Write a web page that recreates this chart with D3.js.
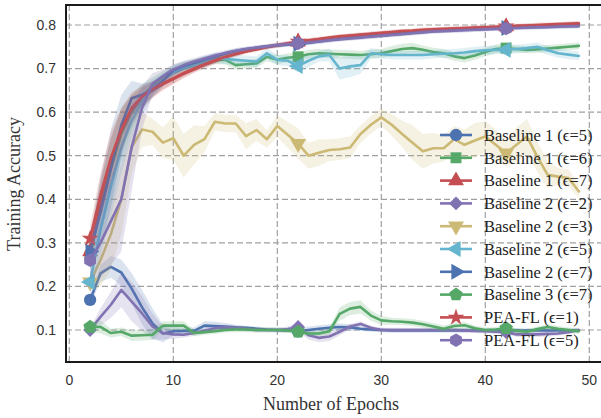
<!DOCTYPE html>
<html>
<head>
<meta charset="utf-8">
<script src="https://cdn.jsdelivr.net/npm/d3@7"></script>
<style>
  html, body { margin: 0; padding: 0; background: #fff; }
  svg { display: block; }
</style>
</head>
<body>
<svg id="chart" width="601" height="418"></svg>
<script>
// ---------------- DATA ----------------
const epochs = [2,3,4,5,6,7,8,9,10,11,12,13,14,15,16,17,18,19,20,21,22,23,24,25,26,27,28,29,30,31,32,33,34,35,36,37,38,39,40,41,42,43,44,45,46,47,48,49];

const seriesNames = ["Baseline 1 (\u03f5=5)","Baseline 1 (\u03f5=6)","Baseline 1 (\u03f5=7)","Baseline 2 (\u03f5=2)","Baseline 2 (\u03f5=3)","Baseline 2 (\u03f5=5)","Baseline 2 (\u03f5=7)","Baseline 3 (\u03f5=7)","PEA-FL (\u03f5=1)","PEA-FL (\u03f5=5)"];

const b1e5 = [0.169,0.23,0.245,0.232,0.195,0.152,0.115,0.092,0.097,0.098,0.098,0.11,0.109,0.108,0.106,0.105,0.103,0.101,0.1,0.099,0.097,0.1,0.103,0.105,0.107,0.106,0.103,0.101,0.1,0.099,0.099,0.099,0.099,0.099,0.099,0.099,0.099,0.099,0.099,0.099,0.099,0.099,0.099,0.099,0.099,0.099,0.099,0.099];
const b1e5Std = [0.01,0.02,0.025,0.03,0.035,0.04,0.035,0.02,0.01,0.008,0.008,0.01,0.01,0.008,0.006,0.005,0.005,0.005,0.005,0.005,0.008,0.008,0.008,0.008,0.008,0.008,0.005,0.005,0.005,0.005,0.005,0.005,0.005,0.005,0.005,0.005,0.005,0.005,0.005,0.005,0.005,0.005,0.005,0.005,0.005,0.005,0.005,0.005];

const b1e6 = [0.27,0.38,0.47,0.55,0.6,0.635,0.66,0.68,0.695,0.705,0.712,0.718,0.72,0.72,0.708,0.71,0.712,0.727,0.72,0.725,0.727,0.733,0.735,0.734,0.733,0.732,0.731,0.733,0.735,0.74,0.745,0.747,0.743,0.738,0.735,0.728,0.724,0.73,0.738,0.745,0.747,0.745,0.743,0.744,0.746,0.748,0.75,0.752];
const b1e6Std = [0.03,0.06,0.07,0.06,0.04,0.03,0.02,0.015,0.012,0.01,0.01,0.01,0.01,0.01,0.01,0.01,0.01,0.01,0.01,0.01,0.01,0.01,0.01,0.01,0.01,0.01,0.01,0.01,0.01,0.012,0.012,0.012,0.01,0.01,0.01,0.01,0.01,0.01,0.01,0.01,0.01,0.008,0.008,0.008,0.008,0.008,0.008,0.008];

const b1e7 = [0.28,0.39,0.48,0.555,0.605,0.632,0.65,0.664,0.676,0.688,0.698,0.708,0.717,0.726,0.733,0.739,0.744,0.749,0.753,0.757,0.761,0.764,0.767,0.77,0.773,0.775,0.777,0.779,0.781,0.783,0.785,0.786,0.788,0.789,0.79,0.791,0.792,0.793,0.794,0.795,0.796,0.797,0.798,0.799,0.8,0.801,0.802,0.803];
const b1e7Std = [0.03,0.05,0.06,0.05,0.035,0.025,0.018,0.014,0.012,0.01,0.008,0.008,0.007,0.006,0.006,0.005,0.005,0.005,0.005,0.005,0.005,0.005,0.005,0.005,0.005,0.005,0.005,0.005,0.005,0.005,0.005,0.005,0.005,0.005,0.005,0.005,0.005,0.005,0.005,0.005,0.005,0.005,0.005,0.005,0.005,0.005,0.005,0.005];

const b2e2 = [0.1,0.13,0.158,0.192,0.165,0.138,0.108,0.093,0.09,0.089,0.093,0.098,0.104,0.106,0.105,0.102,0.1,0.1,0.1,0.102,0.107,0.088,0.082,0.085,0.096,0.108,0.114,0.105,0.1,0.1,0.1,0.1,0.1,0.1,0.1,0.1,0.099,0.098,0.097,0.096,0.095,0.09,0.09,0.09,0.091,0.092,0.095,0.1];
const b2e2Std = [0.005,0.02,0.03,0.04,0.045,0.04,0.03,0.015,0.01,0.006,0.006,0.006,0.006,0.005,0.005,0.005,0.005,0.005,0.005,0.006,0.01,0.01,0.01,0.01,0.008,0.006,0.006,0.005,0.005,0.005,0.005,0.005,0.005,0.005,0.005,0.005,0.005,0.005,0.005,0.005,0.005,0.006,0.006,0.006,0.006,0.005,0.005,0.005];

const b2e3 = [0.21,0.26,0.32,0.4,0.52,0.56,0.555,0.53,0.54,0.5,0.525,0.538,0.578,0.574,0.574,0.545,0.559,0.538,0.568,0.548,0.528,0.5,0.507,0.513,0.515,0.519,0.55,0.571,0.588,0.571,0.55,0.53,0.51,0.517,0.517,0.538,0.525,0.535,0.544,0.525,0.506,0.525,0.544,0.498,0.456,0.452,0.449,0.418];
const b2e3Std = [0.02,0.06,0.08,0.08,0.06,0.04,0.03,0.035,0.05,0.05,0.045,0.03,0.02,0.02,0.02,0.03,0.025,0.02,0.025,0.03,0.035,0.03,0.03,0.025,0.025,0.025,0.02,0.02,0.02,0.025,0.03,0.04,0.04,0.035,0.03,0.03,0.035,0.04,0.035,0.035,0.03,0.04,0.04,0.035,0.03,0.02,0.02,0.015];

const b2e5 = [0.21,0.33,0.43,0.52,0.58,0.625,0.655,0.675,0.69,0.7,0.706,0.715,0.725,0.722,0.72,0.718,0.716,0.735,0.72,0.718,0.706,0.718,0.728,0.731,0.7,0.705,0.708,0.735,0.733,0.731,0.731,0.731,0.731,0.733,0.734,0.735,0.737,0.74,0.742,0.743,0.743,0.745,0.747,0.75,0.742,0.735,0.732,0.729];
const b2e5Std = [0.03,0.06,0.07,0.06,0.04,0.03,0.02,0.015,0.012,0.01,0.01,0.012,0.012,0.012,0.012,0.012,0.012,0.012,0.012,0.012,0.015,0.015,0.012,0.015,0.025,0.025,0.02,0.012,0.01,0.01,0.01,0.01,0.01,0.01,0.01,0.01,0.01,0.01,0.01,0.01,0.01,0.01,0.01,0.01,0.01,0.01,0.01,0.01];

const b2e7 = [0.28,0.37,0.47,0.57,0.632,0.64,0.652,0.672,0.696,0.706,0.713,0.72,0.727,0.734,0.74,0.745,0.748,0.751,0.753,0.755,0.757,0.759,0.762,0.765,0.768,0.77,0.772,0.774,0.776,0.778,0.78,0.782,0.784,0.786,0.787,0.788,0.789,0.79,0.791,0.792,0.793,0.794,0.795,0.795,0.796,0.797,0.797,0.798];
const b2e7Std = [0.04,0.08,0.09,0.07,0.04,0.025,0.018,0.014,0.012,0.01,0.008,0.008,0.007,0.006,0.006,0.005,0.005,0.005,0.005,0.005,0.005,0.005,0.005,0.005,0.005,0.005,0.005,0.005,0.005,0.005,0.005,0.005,0.005,0.005,0.005,0.005,0.005,0.005,0.005,0.005,0.005,0.005,0.005,0.005,0.005,0.005,0.005,0.005];

const b3e7 = [0.107,0.107,0.093,0.096,0.087,0.088,0.089,0.11,0.11,0.11,0.093,0.095,0.097,0.1,0.101,0.101,0.1,0.1,0.1,0.099,0.096,0.092,0.092,0.097,0.137,0.149,0.153,0.133,0.122,0.12,0.119,0.117,0.113,0.108,0.103,0.109,0.111,0.104,0.1,0.101,0.104,0.098,0.096,0.102,0.107,0.103,0.1,0.097];
const b3e7Std = [0.01,0.015,0.01,0.01,0.012,0.012,0.012,0.01,0.01,0.01,0.008,0.006,0.006,0.006,0.006,0.006,0.006,0.006,0.006,0.006,0.006,0.006,0.006,0.008,0.015,0.015,0.015,0.012,0.01,0.008,0.008,0.008,0.008,0.008,0.008,0.008,0.008,0.006,0.006,0.006,0.006,0.006,0.006,0.006,0.006,0.006,0.006,0.006];

const pea1 = [0.31,0.41,0.495,0.56,0.61,0.636,0.653,0.666,0.678,0.69,0.7,0.71,0.719,0.727,0.734,0.74,0.745,0.75,0.754,0.758,0.762,0.765,0.768,0.771,0.774,0.776,0.778,0.78,0.782,0.784,0.786,0.787,0.789,0.79,0.791,0.792,0.793,0.794,0.795,0.796,0.797,0.798,0.799,0.8,0.801,0.802,0.803,0.804];
const pea1Std = [0.03,0.05,0.06,0.05,0.035,0.025,0.018,0.014,0.012,0.01,0.008,0.008,0.007,0.006,0.006,0.005,0.005,0.005,0.005,0.005,0.005,0.005,0.005,0.005,0.005,0.005,0.005,0.005,0.005,0.005,0.005,0.005,0.005,0.005,0.005,0.005,0.005,0.005,0.005,0.005,0.005,0.005,0.005,0.005,0.005,0.005,0.005,0.005];

const pea5 = [0.26,0.3,0.35,0.4,0.52,0.61,0.665,0.683,0.698,0.708,0.716,0.723,0.73,0.736,0.741,0.745,0.748,0.751,0.754,0.756,0.758,0.76,0.762,0.765,0.767,0.769,0.771,0.773,0.775,0.777,0.779,0.781,0.783,0.785,0.786,0.787,0.788,0.789,0.79,0.791,0.792,0.793,0.794,0.795,0.795,0.796,0.797,0.797];
const pea5Std = [0.04,0.08,0.1,0.12,0.1,0.05,0.025,0.015,0.012,0.01,0.008,0.008,0.007,0.006,0.006,0.005,0.005,0.005,0.005,0.005,0.005,0.005,0.005,0.005,0.005,0.005,0.005,0.005,0.005,0.005,0.005,0.005,0.005,0.005,0.005,0.005,0.005,0.005,0.005,0.005,0.005,0.005,0.005,0.005,0.005,0.005,0.005,0.005];

const xTicks = [0,10,20,30,40,50];
const yTicks = [0.1,0.2,0.3,0.4,0.5,0.6,0.7,0.8];
const markerEpochs = [2,22,42];

// ---------------- STYLE ----------------
const C = {blue:"#4C72B0", green:"#55A868", red:"#C44E52", purple:"#8172B2", yellow:"#CCB974", cyan:"#64B5CD"};

const pentagon = { draw(ctx, size) {
  const r = Math.sqrt(size / 2.378);
  for (let i = 0; i < 5; i++) {
    const a = -Math.PI/2 + i * 2*Math.PI/5;
    const px = r*Math.cos(a), py = r*Math.sin(a);
    i ? ctx.lineTo(px, py) : ctx.moveTo(px, py);
  }
  ctx.closePath();
}};
const hexagon = { draw(ctx, size) {
  const r = Math.sqrt(size / 2.598);
  for (let i = 0; i < 6; i++) {
    const a = -Math.PI/2 + i * Math.PI/3;
    const px = r*Math.cos(a), py = r*Math.sin(a);
    i ? ctx.lineTo(px, py) : ctx.moveTo(px, py);
  }
  ctx.closePath();
}};

const series = [
  {name: seriesNames[0], v: b1e5, s: b1e5Std, color: C.blue,   sym: d3.symbolCircle,   size: 120, rot: 0},
  {name: seriesNames[1], v: b1e6, s: b1e6Std, color: C.green,  sym: d3.symbolSquare,   size: 120, rot: 0},
  {name: seriesNames[2], v: b1e7, s: b1e7Std, color: C.red,    sym: d3.symbolTriangle, size: 110, rot: 0},
  {name: seriesNames[3], v: b2e2, s: b2e2Std, color: C.purple, sym: d3.symbolSquare,   size: 95,  rot: 45},
  {name: seriesNames[4], v: b2e3, s: b2e3Std, color: C.yellow, sym: d3.symbolTriangle, size: 110, rot: 180},
  {name: seriesNames[5], v: b2e5, s: b2e5Std, color: C.cyan,   sym: d3.symbolTriangle, size: 110, rot: -90},
  {name: seriesNames[6], v: b2e7, s: b2e7Std, color: C.blue,   sym: d3.symbolTriangle, size: 110, rot: 90},
  {name: seriesNames[7], v: b3e7, s: b3e7Std, color: C.green,  sym: pentagon,          size: 120, rot: 0},
  {name: seriesNames[8], v: pea1, s: pea1Std, color: C.red,    sym: d3.symbolStar,     size: 90,  rot: 0},
  {name: seriesNames[9], v: pea5, s: pea5Std, color: C.purple, sym: hexagon,           size: 120, rot: 0}
];

// ---------------- LAYOUT ----------------
const svg = d3.select("#chart");
const frame = {left: 66, right: 606, top: 5, bottom: 362};
const x = d3.scaleLinear().domain([0, 50]).range([69.3, 589.3]);
const y = d3.scaleLinear().domain([0.1, 0.8]).range([330, 25]);

svg.append("defs").append("clipPath").attr("id", "clip")
  .append("rect").attr("x", frame.left).attr("y", frame.top)
  .attr("width", frame.right - frame.left).attr("height", frame.bottom - frame.top);

// grid
const grid = svg.append("g");
grid.selectAll(".vx").data(xTicks).join("line")
  .attr("x1", d => x(d)).attr("x2", d => x(d))
  .attr("y1", frame.top).attr("y2", frame.bottom)
  .attr("stroke", "#a0a0a0").attr("stroke-width", 1.2).attr("stroke-dasharray", "6,3");
grid.selectAll(".hy").data(yTicks).join("line")
  .attr("y1", d => y(d)).attr("y2", d => y(d))
  .attr("x1", frame.left).attr("x2", frame.right)
  .attr("stroke", "#a0a0a0").attr("stroke-width", 1.2).attr("stroke-dasharray", "6,3");

// series
const plot = svg.append("g").attr("clip-path", "url(#clip)");
const area = d3.area().x((d,i) => x(epochs[i])).y0(d => y(d[0] - d[1])).y1(d => y(d[0] + d[1]));
const line = d3.line().x((d,i) => x(epochs[i])).y(d => y(d));

series.forEach(s => {
  const g = plot.append("g");
  g.append("path").datum(s.v.map((v,i) => [v, s.s[i]]))
    .attr("d", area).attr("fill", s.color).attr("fill-opacity", 0.2).attr("stroke", "none");
  g.append("path").datum(s.v).attr("d", line)
    .attr("fill", "none").attr("stroke", s.color).attr("stroke-width", 2.6)
    .attr("stroke-linejoin", "round").attr("stroke-linecap", "round");
  const symPath = d3.symbol().type(s.sym).size(s.size)();
  g.selectAll(".m").data(markerEpochs).join("path")
    .attr("d", symPath)
    .attr("transform", d => `translate(${x(d)},${y(s.v[epochs.indexOf(d)])}) rotate(${s.rot})`)
    .attr("fill", s.color);
});

// frame
svg.append("rect").attr("x", frame.left).attr("y", frame.top)
  .attr("width", frame.right - frame.left).attr("height", frame.bottom - frame.top)
  .attr("fill", "none").attr("stroke", "#1a1a1a").attr("stroke-width", 2);

// tick labels
svg.append("g").selectAll("text").data(xTicks).join("text")
  .attr("x", d => x(d)).attr("y", 385)
  .attr("text-anchor", "middle")
  .attr("font-family", "Liberation Sans, Arial, sans-serif").attr("font-size", 14).attr("fill", "#333")
  .text(d => d3.format("d")(d));
svg.append("g").selectAll("text").data(yTicks).join("text")
  .attr("x", 56).attr("y", d => y(d)).attr("dy", "0.35em")
  .attr("text-anchor", "end")
  .attr("font-family", "Liberation Sans, Arial, sans-serif").attr("font-size", 14).attr("fill", "#333")
  .text(d => d3.format(".1f")(d));

// axis labels
svg.append("text").attr("x", 331).attr("y", 410).attr("text-anchor", "middle")
  .attr("font-family", "Liberation Serif, Times New Roman, serif").attr("font-size", 18).attr("fill", "#333")
  .text("Number of Epochs");
svg.append("text").attr("transform", "translate(20,184) rotate(-90)").attr("text-anchor", "middle")
  .attr("font-family", "Liberation Serif, Times New Roman, serif").attr("font-size", 18).attr("fill", "#333")
  .text("Training Accuracy");

// legend
const legend = svg.append("g");
const rowH = 22.8;
series.forEach((s, i) => {
  const yy = 135 + i * rowH;
  legend.append("line").attr("x1", 440).attr("x2", 472).attr("y1", yy).attr("y2", yy)
    .attr("stroke", s.color).attr("stroke-width", 2.6);
  legend.append("path").attr("d", d3.symbol().type(s.sym).size(s.size)())
    .attr("transform", `translate(456,${yy}) rotate(${s.rot})`).attr("fill", s.color);
  legend.append("text").attr("x", 484).attr("y", yy).attr("dy", "0.35em")
    .attr("font-family", "Liberation Serif, Times New Roman, serif").attr("font-size", 16.5).attr("fill", "#222")
    .text(s.name);
});
</script>
</body>
</html>
